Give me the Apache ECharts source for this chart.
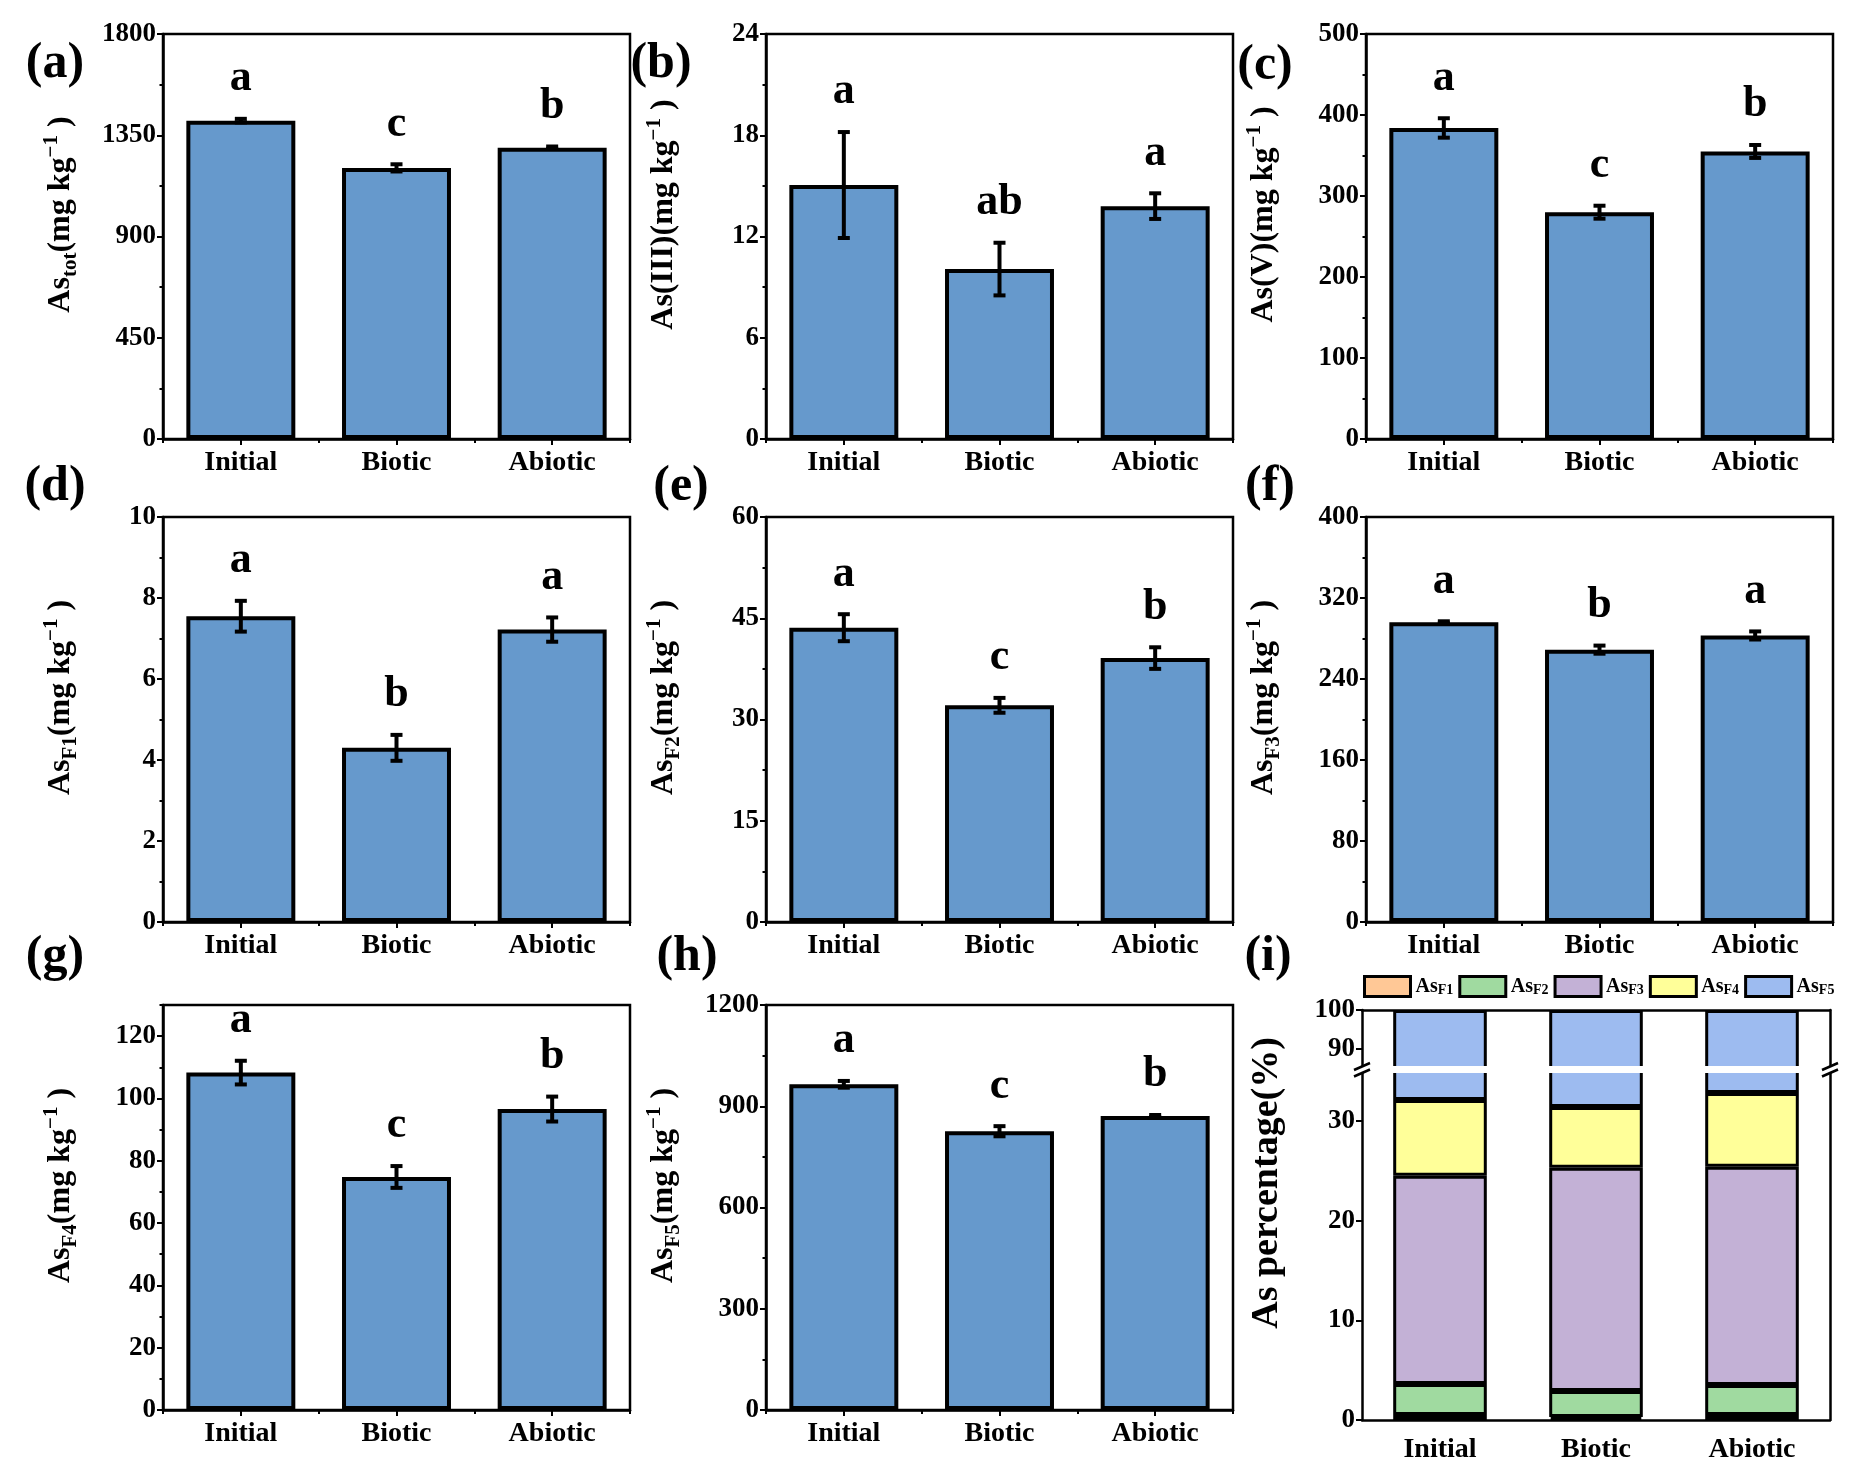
<!DOCTYPE html>
<html><head><meta charset="utf-8">
<script src="https://cdn.jsdelivr.net/npm/echarts@6/dist/echarts.min.js"></script>
<style>html,body{margin:0;padding:0;background:#fff}#c{width:1865px;height:1477px}</style>
</head><body><div id="c"></div><script>
// ---------------- data ----------------
const categories = ['Initial', 'Biotic', 'Abiotic'];

const asTot = [1415, 1205, 1295];
const asTotErr = [8, 16, 5];
const asTotSig = ['a', 'c', 'b'];
const asTotTicks = [0, 450, 900, 1350, 1800];

const asIII = [15.05, 10.07, 13.8];
const asIIIErr = [3.14, 1.56, 0.76];
const asIIISig = ['a', 'ab', 'a'];
const asIIITicks = [0, 6, 12, 18, 24];

const asV = [384, 280, 355];
const asVErr = [12, 8, 8];
const asVSig = ['a', 'c', 'b'];
const asVTicks = [0, 100, 200, 300, 400, 500];

const asF1 = [7.55, 4.3, 7.22];
const asF1Err = [0.38, 0.32, 0.3];
const asF1Sig = ['a', 'b', 'a'];
const asF1Ticks = [0, 2, 4, 6, 8, 10];

const asF2 = [43.6, 32.1, 39.1];
const asF2Err = [2.0, 1.1, 1.6];
const asF2Sig = ['a', 'c', 'b'];
const asF2Ticks = [0, 15, 30, 45, 60];

const asF3 = [296, 269, 283];
const asF3Err = [1, 4, 4];
const asF3Sig = ['a', 'b', 'a'];
const asF3Ticks = [0, 80, 160, 240, 320, 400];

const asF4 = [108.3, 74.8, 96.6];
const asF4Err = [3.8, 3.5, 4.0];
const asF4Sig = ['a', 'c', 'b'];
const asF4Ticks = [0, 20, 40, 60, 80, 100, 120];

const asF5 = [965, 826, 871];
const asF5Err = [10, 15, 3];
const asF5Sig = ['a', 'c', 'b'];
const asF5Ticks = [0, 300, 600, 900, 1200];

const fractionNames = ['AsF1', 'AsF2', 'AsF3', 'AsF4', 'AsF5'];
const pctF1 = [0.5, 0.3, 0.5];
const pctF2 = [3.1, 2.6, 3.0];
const pctF3 = [20.9, 22.4, 21.9];
const pctF4 = [7.6, 6.1, 7.4];
const pctF5 = [67.9, 68.6, 67.2];
const pctTicksLow = [0, 10, 20, 30];
const pctTicksHigh = [90, 100];
const pctRangeLow = [0, 35];
const pctRangeHigh = [85, 100];

// ---------------- layout / style ----------------
const FONT = '"Liberation Serif", "Times New Roman", serif';
const BAR = '#6699CC';
const fracColors = ['#FFC896', '#A0DAA0', '#C3B1D6', '#FFFF99', '#9DBBF0'];
const colLeft = [163, 766, 1366];
const rowTop = [34, 517, 1005];
const GW = 467, GH = 405;

const panels = [
  { v: asTot, e: asTotErr, s: asTotSig, t: asTotTicks, max: 1800, name: '{b|As}{sub|tot}{b|(mg kg}{sup|−1}{b| )}' },
  { v: asIII, e: asIIIErr, s: asIIISig, t: asIIITicks, max: 24, name: '{b|As(III)(mg kg}{sup|−1}{b| )}' },
  { v: asV, e: asVErr, s: asVSig, t: asVTicks, max: 500, name: '{b|As(V)(mg kg}{sup|−1}{b| )}' },
  { v: asF1, e: asF1Err, s: asF1Sig, t: asF1Ticks, max: 10, name: '{b|As}{sub|F1}{b|(mg kg}{sup|−1}{b| )}' },
  { v: asF2, e: asF2Err, s: asF2Sig, t: asF2Ticks, max: 60, name: '{b|As}{sub|F2}{b|(mg kg}{sup|−1}{b| )}' },
  { v: asF3, e: asF3Err, s: asF3Sig, t: asF3Ticks, max: 400, name: '{b|As}{sub|F3}{b|(mg kg}{sup|−1}{b| )}' },
  { v: asF4, e: asF4Err, s: asF4Sig, t: asF4Ticks, max: 130, name: '{b|As}{sub|F4}{b|(mg kg}{sup|−1}{b| )}' },
  { v: asF5, e: asF5Err, s: asF5Sig, t: asF5Ticks, max: 1200, name: '{b|As}{sub|F5}{b|(mg kg}{sup|−1}{b| )}' }
];

const nameRich = {
  b: { fontFamily: FONT, fontWeight: 'bold', fontSize: 32, color: '#000', lineHeight: 40, verticalAlign: 'middle' },
  sub: { fontFamily: FONT, fontWeight: 'bold', fontSize: 21, color: '#000', lineHeight: 22, verticalAlign: 'bottom' },
  sup: { fontFamily: FONT, fontWeight: 'bold', fontSize: 21, color: '#000', lineHeight: 22, verticalAlign: 'top' }
};

const grids = [], xAxes = [], yAxes = [], series = [], graphics = [];

function addAxes(gi, ticks, min, max, minorStep, opts) {
  opts = opts || {};
  xAxes.push({
    type: 'category', gridIndex: gi, data: categories, position: opts.xTop ? 'top' : 'bottom',
    axisLine: { show: true, lineStyle: { color: '#000', width: 2.5 } },
    axisTick: { show: !opts.noXTick, alignWithLabel: true, length: 6, lineStyle: { color: '#000', width: 2 } },
    axisLabel: { show: !opts.noXLabel, margin: opts.xMargin || 10, fontFamily: FONT, fontWeight: 'bold', fontSize: 28, color: '#000' },
    splitLine: { show: false }
  });
  const xMain = xAxes.length - 1;
  if (!opts.noXTick) {
    xAxes.push({
      type: 'category', gridIndex: gi, data: categories, position: 'bottom',
      axisLine: { show: false }, axisLabel: { show: false }, splitLine: { show: false },
      axisTick: { show: true, alignWithLabel: false, length: 4, lineStyle: { color: '#000', width: 2 } }
    });
  }
  yAxes.push({
    type: 'value', gridIndex: gi, min: min, max: max, position: 'left',
    axisLine: { show: true, lineStyle: { color: '#000', width: 2.5 } },
    axisTick: { show: true, length: 6, customValues: ticks, lineStyle: { color: '#000', width: 2 } },
    axisLabel: {
      show: true, customValues: ticks, margin: 7, formatter: v => String(v),
      fontFamily: FONT, fontWeight: 'bold', fontSize: 27, color: '#000'
    },
    splitLine: { show: false },
    name: opts.name || '', nameLocation: 'middle', nameGap: opts.nameGap || 80, nameRotate: 90,
    nameMoveOverlap: false,
    nameTextStyle: { rich: opts.rich || nameRich, padding: [0, 0, 0, opts.namePad || 44] }
  });
  const yMain = yAxes.length - 1;
  if (minorStep) {
    yAxes.push({
      type: 'value', gridIndex: gi, min: min, max: max, interval: minorStep, position: 'left',
      axisLine: { show: false }, axisLabel: { show: false }, splitLine: { show: false },
      axisTick: { show: true, length: 3.5, lineStyle: { color: '#000', width: 2 } }
    });
  }
  if (opts.rightLine) {
    yAxes.push({
      type: 'value', gridIndex: gi, min: min, max: max, position: 'right',
      axisLine: { show: true, lineStyle: { color: '#000', width: 2.5 } },
      axisTick: { show: false }, axisLabel: { show: false }, splitLine: { show: false }
    });
  }
  return { xMain, yMain };
}

function errRender(sig) {
  return function (params, api) {
    const x = api.value(0), v = api.value(1), e = api.value(2);
    const top = api.coord([x, v + e]);
    const bot = api.coord([x, v - e]);
    const cap = 6;
    const ls = { stroke: '#000', lineWidth: 4 };
    return {
      type: 'group',
      children: [
        { type: 'line', shape: { x1: top[0], y1: top[1], x2: bot[0], y2: bot[1] }, style: ls },
        { type: 'line', shape: { x1: top[0] - cap, y1: top[1], x2: top[0] + cap, y2: top[1] }, style: ls },
        { type: 'line', shape: { x1: bot[0] - cap, y1: bot[1], x2: bot[0] + cap, y2: bot[1] }, style: ls },
        {
          type: 'text',
          style: {
            text: sig[params.dataIndex], x: top[0], y: top[1] - 18,
            align: 'center', verticalAlign: 'bottom',
            fontFamily: FONT, fontWeight: 'bold', fontSize: 44, fill: '#000'
          }
        }
      ]
    };
  };
}

const panelLetters = ['(a)', '(b)', '(c)', '(d)', '(e)', '(f)', '(g)', '(h)', '(i)'];
const letterPos = [
  [55, 64], [661, 64], [1265, 66],
  [55, 487], [681, 487], [1270, 487],
  [55, 957], [687, 957], [1268, 957]
];

panels.forEach((p, i) => {
  const r = Math.floor(i / 3), c = i % 3;
  grids.push({ left: colLeft[c], top: rowTop[r], width: GW, height: GH, show: true, borderColor: '#000', borderWidth: 2.5, outerBoundsMode: 'none' });
  const gi = grids.length - 1;
  const minorStep = (p.t[1] - p.t[0]) / 2;
  const ax = addAxes(gi, p.t, 0, p.max, minorStep, { name: p.name, nameGap: 82 });
  series.push({
    type: 'bar', xAxisIndex: ax.xMain, yAxisIndex: ax.yMain, data: p.v, barWidth: '70%',
    itemStyle: { color: BAR, borderColor: '#000', borderWidth: 4 }, z: 2
  });
  series.push({
    type: 'custom', xAxisIndex: ax.xMain, yAxisIndex: ax.yMain, z: 3,
    data: p.v.map((v, k) => [k, v, p.e[k]]),
    renderItem: errRender(p.s)
  });
});

// ---- panel (i): broken percentage axis, two grids ----
const IL = 1362, IW = 468;
const upTop = 1010, upBot = 1068, lowTop = 1071, lowBot = 1420;
grids.push({ left: IL, top: upTop, width: IW, height: upBot - upTop, show: false, outerBoundsMode: 'none' });
const giUp = grids.length - 1;
const axUp = addAxes(giUp, pctTicksHigh, pctRangeHigh[0], pctRangeHigh[1], 0, { xTop: true, noXTick: true, noXLabel: true, rightLine: true });
grids.push({ left: IL, top: lowTop, width: IW, height: lowBot - lowTop, show: false, outerBoundsMode: 'none' });
const giLow = grids.length - 1;
const pctRich = {
  b: { fontFamily: FONT, fontWeight: 'bold', fontSize: 38, color: '#000', lineHeight: 42 }
};
const axLow = addAxes(giLow, pctTicksLow, pctRangeLow[0], pctRangeLow[1], 0, {
  noXTick: true, rightLine: true, xMargin: 16,
  name: '{b|As percentage(%)}', rich: pctRich, nameGap: 74, namePad: 125
});
const pctData = [pctF1, pctF2, pctF3, pctF4, pctF5];
[[axUp, 'up'], [axLow, 'low']].forEach(([ax, st]) => {
  pctData.forEach((d, k) => {
    series.push({
      type: 'bar', name: fractionNames[k], stack: st, xAxisIndex: ax.xMain, yAxisIndex: ax.yMain,
      data: d, barWidth: '60%',
      itemStyle: { color: fracColors[k], borderColor: '#000', borderWidth: 3 }
    });
  });
});

// break band and slashes
graphics.push({ type: 'rect', z: 100, shape: { x: IL - 14, y: 1066, width: IW + 28, height: 7 }, style: { fill: '#fff' } });
[IL, IL + IW].forEach(X => {
  graphics.push({ type: 'line', z: 101, shape: { x1: X - 8, y1: 1070, x2: X + 8, y2: 1063 }, style: { stroke: '#000', lineWidth: 2.5 } });
  graphics.push({ type: 'line', z: 101, shape: { x1: X - 8, y1: 1076.5, x2: X + 8, y2: 1069.5 }, style: { stroke: '#000', lineWidth: 2.5 } });
});

panelLetters.forEach((t, i) => {
  graphics.push({
    type: 'text', z: 50, x: letterPos[i][0], y: letterPos[i][1],
    style: { text: t, align: 'center', verticalAlign: 'middle', fontFamily: FONT, fontWeight: 'bold', fontSize: 50, fill: '#000' }
  });
});

const chart = echarts.init(document.getElementById('c'), null, { renderer: 'canvas' });
chart.setOption({
  backgroundColor: '#fff',
  animation: false,
  grid: grids,
  xAxis: xAxes,
  yAxis: yAxes,
  series: series,
  graphic: { elements: graphics },
  legend: {
    data: fractionNames.map(n => ({ name: n, itemStyle: { borderColor: '#000', borderWidth: 3 } })),
    left: 1363, top: 975, padding: 0,
    itemWidth: 46, itemHeight: 20, itemGap: 5, icon: 'rect',
    itemStyle: { borderColor: '#000', borderWidth: 3 },
    formatter: n => '{a|As}{s|' + n.slice(2) + '}',
    textStyle: {
      color: '#000',
      rich: {
        a: { fontFamily: FONT, fontWeight: 'bold', fontSize: 20, color: '#000', lineHeight: 22, verticalAlign: 'middle' },
        s: { fontFamily: FONT, fontWeight: 'bold', fontSize: 14, color: '#000', lineHeight: 14, verticalAlign: 'bottom' }
      }
    }
  }
});
</script></body></html>
